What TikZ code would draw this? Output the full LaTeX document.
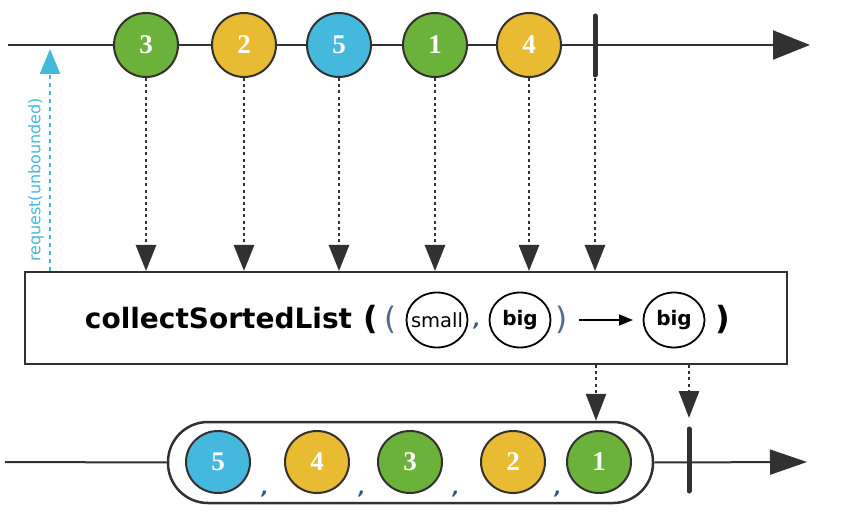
\documentclass[tikz,border=0pt]{standalone}
\usepackage{fontspec}
\setmainfont{Liberation Serif}
\setsansfont{DejaVu Sans}
\usetikzlibrary{arrows.meta,shapes.geometric}
\definecolor{mgreen}{HTML}{6BB23A}
\definecolor{myellow}{HTML}{E8BB33}
\definecolor{mblue}{HTML}{45B8DE}
\definecolor{mdark}{HTML}{333030}
\definecolor{mparen}{HTML}{4F6A8C}
\definecolor{mcomma}{HTML}{2F4F86}
\tikzset{
  tl/.style={draw=mdark, line width=2pt},
  ball/.style={circle, draw=mdark, line width=2pt, fill=#1, minimum size=64pt, inner sep=0pt,
    text=white, font=\fontsize{27}{27}\selectfont\bfseries},
  oval/.style={ellipse, draw=mdark, line width=2pt, fill=#1, minimum width=64pt, minimum height=62pt, inner sep=0pt,
    text=white, font=\fontsize{27}{27}\selectfont\bfseries},
  opball/.style={ellipse, draw=black, line width=1.8pt, minimum width=61pt, minimum height=55pt, inner sep=0pt},
  term/.style={draw=mdark, line width=5pt, line cap=round},
  dotarr/.style={draw=mdark, line width=2.8pt, dash pattern=on 3pt off 3.2pt,
    -{Triangle[width=20pt,length=26pt,fill=mdark]}},
  reqarr/.style={draw=mblue, line width=2.2pt, dash pattern=on 4pt off 4pt,
    -{Triangle[width=20pt,length=25pt,fill=mblue]}},
  mainarr/.style={tl, -{Triangle[width=29pt,length=37pt,fill=mdark]}},
  botarr/.style={tl, -{Triangle[width=25pt,length=37pt,fill=mdark]}},
  optext/.style={font=\sffamily\bfseries\fontsize{28}{28}\selectfont, inner sep=0pt, anchor=base},
  boldparen/.style={font=\sffamily\bfseries\fontsize{32}{32}\selectfont, inner sep=0pt, anchor=base},
  thinparen/.style={font=\sffamily\fontsize{31}{32}\selectfont, text=mparen, inner sep=0pt, anchor=base},
  commasty/.style={font=\sffamily\bfseries\itshape\fontsize{18}{18}\selectfont, text=mcomma, inner sep=0pt, anchor=base},
}
\begin{document}
\begin{tikzpicture}[x=1pt,y=-1pt]
\useasboundingbox (0,0) rectangle (865,513);
% ---------- top timeline ----------
\coordinate (tstart) at (8,45);
\coordinate (tend) at (810,45);
\draw[mainarr] (tstart) -- (tend);
\node[ball=mgreen]  (t3) at (146,45) {3};
\node[ball=myellow] (t2) at (244,45) {2};
\node[ball=mblue]   (t5) at (339,45) {5};
\node[ball=mgreen]  (t1) at (435,45) {1};
\node[ball=myellow] (t4) at (529,45) {4};
\coordinate (termT) at (595,16);
\coordinate (termB) at (595,75);
\draw[term] (termT) -- (termB);
% ---------- operator box ----------
\node[draw=mdark, line width=2pt, minimum width=762pt, minimum height=92pt, inner sep=0pt] (op) at (406,318) {};
\foreach \n in {t3,t2,t5,t1,t4}{
  \draw[dotarr] (\n.south) -- (\n.south |- op.north);
}
\draw[dotarr] ([yshift=-3pt]termB) -- (termB |- op.north);
% request arrow
\coordinate (rq) at (50,49);
\draw[reqarr] (rq |- op.north) -- (rq);
\node[rotate=90, text=mblue, font=\sffamily\fontsize{16}{16}\selectfont, inner sep=0pt] (rqlabel) at (36,180) {request(unbounded)};
% operator text
\node[optext] (opname) at (218.5,328) {collectSortedList};
\node[boldparen] (lpb) at (371,329) {(};
\node[thinparen] (lpt) at (391,329) {(};
\node[opball] (small) at (437,320) {\sffamily\fontsize{19.5}{20}\selectfont\makebox[0pt]{small}};
\node[commasty] (c0) at (477,326) {,};
\node[opball] (big1) at (520,320) {\sffamily\bfseries\fontsize{20}{20}\selectfont\makebox[0pt]{big}};
\node[thinparen] (rpt) at (562,329) {)};
\node[opball] (big2) at (674,320) {\sffamily\bfseries\fontsize{20}{20}\selectfont\makebox[0pt]{big}};
\node[boldparen] (rpb) at (723,329) {)};
\coordinate (ar0) at (579,320);
\draw[black, line width=1.5pt, -{Triangle[width=11pt,length=14pt]}] (ar0) -- (big2.west -| 633,0);
% ---------- bottom timeline ----------
\node[draw=mdark, line width=2.5pt, rounded corners=40pt, minimum width=485pt, minimum height=81pt, inner sep=0pt] (list) at (410.5,462.5) {};
\coordinate (bstart) at (5,462);
\coordinate (bend) at (807,462);
\draw[tl] (bstart) -- (list.west);
\draw[botarr] (list.east) -- (bend);
\node[oval=mblue]   (b5) at (218,462) {5};
\node[oval=myellow] (b4) at (317,462) {4};
\node[oval=mgreen]  (b3) at (410,462) {3};
\node[oval=myellow] (b2) at (513,462) {2};
\node[oval=mgreen]  (b1) at (599,462) {1};
\node[commasty] (c1) at (265,494) {,};
\node[commasty] (c2) at (362,494) {,};
\node[commasty] (c3) at (456,494) {,};
\node[commasty] (c4) at (558,494) {,};
\coordinate (btT) at (689,429);
\coordinate (btB) at (689,491);
\draw[term] (btT) -- (btB);
\draw[dotarr, -{Triangle[width=20pt,length=27pt,fill=mdark]}] (op.south -| 596,0) -- (list.north -| 596,0);
\draw[dotarr, -{Triangle[width=20pt,length=27pt,fill=mdark]}] (op.south -| btT) -- ([yshift=11pt]btT);
\end{tikzpicture}
\end{document}
